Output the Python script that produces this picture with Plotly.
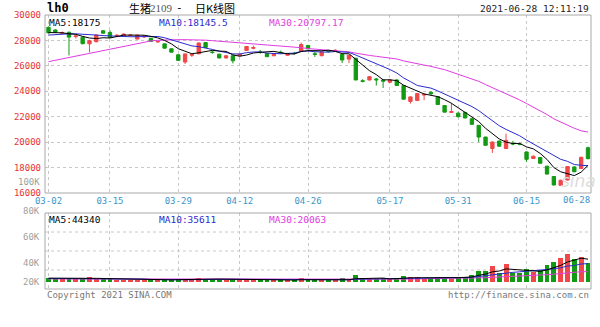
import plotly.graph_objects as go

# ---------------- data ----------------
months = {"03": [2,3,4,5,8,9,10,11,12,15,16,17,18,19,22,23,24,25,26,29,30,31],
          "04": [1,2,6,7,8,9,12,13,14,15,16,19,20,21,22,23,26,27,28,29,30],
          "05": [6,7,10,11,12,13,14,17,18,19,20,21,24,25,26,27,28,31],
          "06": [1,2,3,4,7,8,9,10,11,15,16,17,18,21,22,23,24,25,28]}
dates = [f"2021-{m}-{d:02d}" for m in months for d in months[m]]

tick_dates = ["2021-03-02", "2021-03-15", "2021-03-29", "2021-04-12", "2021-04-26",
              "2021-05-17", "2021-05-31", "2021-06-15", "2021-06-28"]
tick_text = [d[5:] for d in tick_dates]
price_ticks = [16000, 18000, 20000, 22000, 24000, 26000, 28000, 30000]
vol_tick_text = ["100K", "80K", "60K", "40K", "20K"]

opens = [29030,28820,28560,28640,28300,28250,27730,27900,28760,28630,
         28360,28330,28380,28110,28280,28170,27880,27730,27340,26870,
         26300,26840,26950,27830,27080,26920,26620,26790,26790,27210,
         27380,27080,26970,26790,27070,26840,26990,27160,27600,26950,
         26800,27150,27130,26900,26530,26600,24830,24890,24970,24880,
         24710,24890,24450,23200,23280,23700,23920,23590,22880,22340,
         22280,22330,21840,21320,20400,19500,20090,19500,19920,19850,
         19230,18710,18790,18110,17300,16600,17020,18050,17930,19560]
highs = [29100,28880,28700,28700,28450,28300,28050,28450,28800,28800,
         28500,28550,28480,28450,28380,28200,28000,27760,27380,26900,
         26950,27000,27830,27850,27200,26950,26850,26820,26950,27550,
         27600,27250,27000,27000,27200,27000,27100,27830,27650,27100,
         27150,27250,27300,26950,26850,26620,24950,25200,25050,24950,
         24950,24950,24500,23600,23850,23850,24000,23620,22900,23060,
         22350,22400,21880,21350,20420,20050,20120,20670,20100,19950,
         19260,18950,18820,18130,17330,17050,18120,18100,18850,19650]
lows = [28550,28600,28480,26820,28150,27700,27060,27850,28550,28200,
        28250,28300,28300,28080,28200,27900,27820,27380,27060,26400,
        26150,26700,26900,27440,26950,26600,26580,26190,26750,27180,
        27300,26950,26700,26770,26950,26800,26900,27100,27300,26700,
        26750,27050,27100,26220,26220,24880,24700,24850,24450,24260,
        24650,24420,23350,23030,23250,23300,23700,22950,22350,22300,
        21950,21880,21380,20010,19740,19150,19650,19480,19750,19750,
        18450,18680,18300,17450,16600,16560,16990,17650,17900,18650]
closes = [28600,28650,28620,28260,28350,27740,27980,28430,28570,28240,
          28400,28500,28420,28410,28330,27930,27920,27390,27080,26430,
          26940,26880,27800,27450,27050,26620,26790,26400,26920,27520,
          27440,27050,26720,26970,27040,26970,26970,27680,27340,26900,
          27080,27130,27230,26460,26840,24890,24780,25150,24900,24800,
          24890,24450,23380,23560,23820,23760,23800,22960,22360,22400,
          22000,21900,21400,20400,19750,20010,19680,20140,19860,19830,
          18650,18890,18340,17490,16630,17000,18080,17670,18810,18700]

ma5 = [28620,28630,28600,28520,28480,28320,28190,28150,28210,28190,
       28320,28420,28420,28390,28410,28320,28200,28000,27730,27350,
       27150,26950,27030,27100,27220,27160,27140,26860,26760,26850,
       27010,27070,27130,27140,27040,26950,26930,27130,27200,27170,
       27190,27230,27140,26960,26950,26510,26040,25620,25310,24900,
       24900,24840,24480,24220,24020,23790,23660,23580,23340,23060,
       22700,22320,22010,21620,21090,20690,20250,20000,19890,19900,
       19630,19470,19110,18640,18000,17670,17510,17370,17640,18175]
ma10 = [28420,28460,28500,28520,28520,28500,28460,28420,28380,28340,
        28320,28310,28290,28300,28300,28320,28310,28210,28060,27880,
        27740,27570,27510,27420,27290,27160,27040,26940,26930,27040,
        27090,27100,27000,26950,26950,26980,27000,27130,27170,27110,
        27070,27080,27130,27080,27060,26850,26630,26380,26140,25930,
        25710,25440,25050,24760,24460,24350,24250,24030,23780,23540,
        23250,22990,22800,22480,22070,21700,21290,21000,20750,20500,
        20160,19860,19560,19260,18950,18650,18490,18240,18180,18145.5]
ma30 = [26330,26440,26550,26660,26770,26880,26990,27100,27210,27320,
        27430,27540,27650,27760,27870,27960,28010,28040,28060,28060,
        28060,28060,28050,28020,27980,27940,27900,27860,27820,27780,
        27730,27680,27650,27620,27590,27560,27500,27430,27360,27320,
        27300,27250,27210,27150,27100,27000,26890,26820,26750,26690,
        26620,26540,26390,26260,26160,26060,25960,25850,25700,25520,
        25340,25170,24990,24780,24530,24300,24060,23810,23560,23320,
        23040,22770,22470,22170,21830,21570,21340,21090,20890,20797.17]

volume = [8300,5800,6500,7000,6000,5500,10400,6500,5500,6000,
          4500,4000,4000,4500,4000,4000,3500,4500,5000,5500,
          4500,5000,8300,5500,4500,5000,4000,5000,4000,4500,
          4000,3500,4000,4000,3500,3500,4000,7200,4000,4000,
          3500,4000,3500,7000,4000,13600,7000,5500,5000,7000,
          5000,7500,12000,9000,9000,6500,7500,9500,10000,6000,
          8400,10400,13600,22000,22000,31000,18100,34300,18100,16800,
          24600,20000,23300,33000,39400,46000,53800,44000,48000,36300]
vma5 = [7500,7200,7000,6800,6700,6200,7100,7100,6800,6800,
        6600,5300,4900,4600,4200,4100,4000,4100,4200,4500,
        5000,4900,5700,5800,5600,5700,5500,4800,4500,4500,
        4300,4000,4000,4000,3800,3700,3800,4400,4400,4500,
        4500,4500,3800,4400,4400,6400,7000,7400,7000,7600,
        6000,6000,7300,8100,8500,8800,8800,8300,8500,7900,
        8300,8900,9700,13100,15300,19800,21300,25500,24700,23700,
        22400,21400,20600,23500,28100,32300,38900,43200,46200,44340]
vma10 = [6800,6800,6800,6700,6700,6600,6800,6900,6800,6600,
         6400,6200,6000,5700,5500,4700,4400,4400,4400,4300,
         4400,4500,4900,4900,4900,5200,5200,5200,5100,5000,
         4900,4700,4300,4200,4100,4000,4000,4300,4300,4300,
         4200,4200,4100,4400,4400,5400,5700,5900,5900,6200,
         6300,6500,7400,7600,8000,7300,7400,7800,8300,8300,
         8600,8900,9000,10700,12000,14600,15500,17900,18700,19800,
         21400,22300,23200,24300,26000,27500,31000,32000,35000,35611]
vma30 = [6000,5980,5950,5920,5900,5880,5860,5840,5810,5780,
         5750,5700,5650,5600,5550,5500,5450,5400,5350,5300,
         5250,5200,5200,5150,5100,5050,5000,4950,4900,4850,
         4800,4750,4700,4650,4600,4550,4550,4550,4500,4500,
         4500,4500,4500,4600,4600,4900,5000,5050,5100,5200,
         5250,5350,5600,5800,5950,6050,6150,6300,6450,6500,
         6650,6850,7150,7700,8300,9100,9600,10600,11100,11500,
         12200,12700,13300,14200,15300,16600,18200,19400,20000,20063]

# ---------------- style ----------------
RED = "#f04848"
GREEN = "#139a13"
C_MA5 = "#000000"
C_MA10 = "#2a2ad0"
C_MA30 = "#e03ce0"
GRID = "#c8c8c8"
BORDER = "#a8a8a8"
MONO = "DejaVu Sans Mono"
CJK = "Noto Sans CJK SC"

W, H = 600, 327
ML, MR, MT, MB = 45, 9, 15, 38
PW, PH = W - ML - MR, H - MT - MB
MAIN_BOTTOM_PX, VOL_TOP_PX = 193, 213


def px(x):
    return (x - ML) / PW


def py(y):
    return (H - MB - y) / PH


main_dom = [py(MAIN_BOTTOM_PX), 1.0]
vol_dom = [0.0, py(VOL_TOP_PX)]

fig = go.Figure()
fig.add_trace(go.Candlestick(
    x=dates, open=opens, high=highs, low=lows, close=closes,
    increasing=dict(line=dict(color=RED, width=1), fillcolor=RED),
    decreasing=dict(line=dict(color=GREEN, width=1), fillcolor=GREEN),
    whiskerwidth=0, showlegend=False, hoverinfo="skip", xaxis="x", yaxis="y"))
for series, col in [(ma30, C_MA30), (ma10, C_MA10), (ma5, C_MA5)]:
    fig.add_trace(go.Scatter(x=dates, y=series, mode="lines", line=dict(color=col, width=1),
                             showlegend=False, hoverinfo="skip", xaxis="x", yaxis="y"))

bar_colors = [RED if c >= o else GREEN for o, c in zip(opens, closes)]
fig.add_trace(go.Bar(x=dates, y=volume, marker=dict(color=bar_colors, line=dict(width=0)),
                     width=0.72, showlegend=False, hoverinfo="skip", xaxis="x2", yaxis="y2"))
for series, col in [(vma30, C_MA30), (vma10, C_MA10), (vma5, C_MA5)]:
    fig.add_trace(go.Scatter(x=dates, y=series, mode="lines", line=dict(color=col, width=1),
                             showlegend=False, hoverinfo="skip", xaxis="x2", yaxis="y2"))

x_range = [-0.5125, 79.44]
common_x = dict(type="category", categoryorder="array", categoryarray=dates, range=x_range,
                showline=False, zeroline=False, ticks="", showgrid=True,
                gridcolor=GRID, griddash="dot", gridwidth=1,
                tickvals=tick_dates[:-1], ticktext=tick_text[:-1])

fig.update_layout(
    width=W, height=H, margin=dict(l=ML, r=MR, t=MT, b=MB),
    paper_bgcolor="white", plot_bgcolor="white", showlegend=False, bargap=0,
    xaxis=dict(**common_x, anchor="y", domain=[0, 1],
               tickfont=dict(family=MONO, size=9, color="#3a96cc"),
               ticklabelstandoff=1, rangeslider=dict(visible=False)),
    yaxis=dict(domain=main_dom, range=[16000, 30000], tickvals=price_ticks,
               ticktext=[str(v) for v in price_ticks], showline=False, zeroline=False,
               ticks="", gridcolor=GRID, griddash="dot", gridwidth=1,
               tickfont=dict(family=MONO, size=9, color="#e53333"), ticklabelstandoff=3),
    xaxis2=dict(**common_x, anchor="y2", domain=[0, 1], matches="x", showticklabels=False),
    yaxis2=dict(domain=vol_dom, range=[-13600, 134000], showticklabels=False,
                showgrid=False, zeroline=False, showline=False, ticks=""),
)

shapes = []
for dom in (main_dom, vol_dom):
    shapes.append(dict(type="rect", xref="paper", yref="paper", x0=0, x1=1, y0=dom[0], y1=dom[1],
                       line=dict(color=BORDER, width=1), fillcolor="rgba(0,0,0,0)", layer="above"))
for f in (0.25, 0.5, 0.75):
    shapes.append(dict(type="line", xref="paper", yref="y2 domain", x0=0, x1=1, y0=f, y1=f,
                       line=dict(color=GRID, width=1, dash="dot"), layer="below"))
fig.update_layout(shapes=shapes)

anns = []


def ann(text, x, y, color="#000000", size=9, family=MONO, xanchor="left", **kw):
    anns.append(dict(text=text, x=px(x), y=py(y), xref="paper", yref="paper", showarrow=False,
                     xanchor=xanchor, yanchor="middle", font=dict(family=family, size=size, color=color),
                     **kw))


# header
ann("<b>lh0</b>", 45, 8, size=12)
ann("生猪", 127, 8, size=11, family=CJK)
ann("2109", 148, 8, size=11, family="Liberation Serif", color="#555555")
ann("-", 179, 8, size=11, xanchor="center")
ann("日K线图", 193, 8, size=11, family=CJK)
ann("2021-06-28 12:11:19", 591, 9, size=9.5, xanchor="right", color="#222222")
# MA legends
ann(f"MA5:{ma5[-1]}", 47, 22, color=C_MA5, size=9.5)
ann(f"MA10:{ma10[-1]}", 157, 22, color=C_MA10, size=9.5)
ann(f"MA30:{ma30[-1]}", 267, 22, color=C_MA30, size=9.5)
ann(f"MA5:{vma5[-1]}", 47, 220, color=C_MA5, size=9.5)
ann(f"MA10:{vma10[-1]}", 157, 220, color=C_MA10, size=9.5)
ann(f"MA30:{vma30[-1]}", 267, 220, color=C_MA30, size=9.5)
# volume axis labels
for t, yy in zip(vol_tick_text, [182, 211, 237, 263, 282]):
    ann(t, 42, yy, color="#a0a0a0", size=9, xanchor="right")
# last date label (right aligned to the frame)
anns.append(dict(text=tick_text[-1], x=tick_dates[-1], xref="x", y=py(200), yref="paper",
                 showarrow=False, xanchor="right", yanchor="middle", xshift=4,
                 font=dict(family=MONO, size=9, color="#3a96cc")))
# footer
ann("Copyright 2021 SINA.COM", 45, 295, color="#777777", size=9)
ann("http://finance.sina.com.cn", 591, 295, color="#777777", size=9, xanchor="right")
# watermark
anns.append(dict(text="sina", x=px(578), y=py(181), xref="paper", yref="paper", showarrow=False,
                 xanchor="center", yanchor="middle",
                 font=dict(family="DejaVu Sans", size=17, color="#dcdcdc", style="italic")))
fig.update_layout(annotations=anns)

fig.write_html("out.html")
